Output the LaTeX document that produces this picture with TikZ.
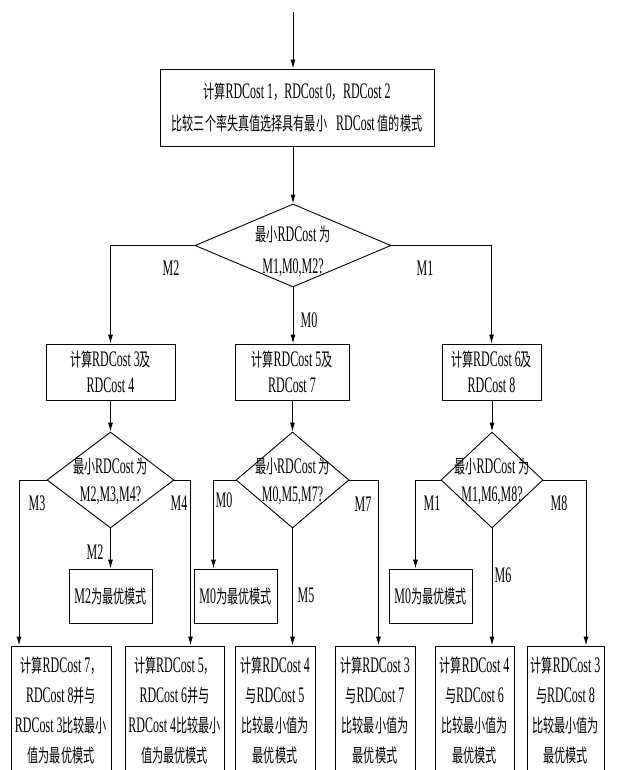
\documentclass[tikz,border=0pt]{standalone}
\usepackage{fontspec}
\setmainfont{Liberation Serif}[Scale=1.2,FakeStretch=0.54]
\newfontfamily\zhfont{Noto Sans CJK SC}[FakeStretch=0.6]
\usetikzlibrary{arrows.meta,shapes.geometric}

% ideographs get the CJK face, everything else stays serif
\XeTeXinterchartokenstate=1
\newXeTeXintercharclass\zhclass
\newcount\zhcode
\zhcode="4E00
\loop
  \XeTeXcharclass\zhcode=\zhclass
  \advance\zhcode by 1
\ifnum\zhcode<"A000 \repeat
\XeTeXcharclass"FF0C=\zhclass
\XeTeXinterchartoks 0 \zhclass = {\zhfont}
\XeTeXinterchartoks 4095 \zhclass = {\zhfont}
\XeTeXinterchartoks \zhclass 0 = {\rmfamily}
\XeTeXinterchartoks \zhclass 4095 = {\rmfamily}

\tikzset{
  box/.style={draw, line width=0.9pt, align=center, inner sep=1pt,
    font=\fontsize{18.5}{30}\selectfont},
  choice/.style={draw, diamond, line width=0.9pt, inner sep=0pt},
  qtext/.style={align=center, inner sep=0pt, font=\fontsize{18.5}{28}\selectfont},
  lab/.style={inner sep=0pt, font=\fontsize{18.5}{20}\selectfont},
  flow/.style={line width=0.9pt, -{Latex[length=9pt,width=5pt]}},
}

\begin{document}
\begin{tikzpicture}[x=1pt,y=-1pt]
  \useasboundingbox (0,0) rectangle (616,770);

  % first decision
  \coordinate (start) at (293,12);
  \node[box, minimum width=274pt, minimum height=77pt, font=\fontsize{18.5}{32}\selectfont]
    (tb) at (297,107.5) {计算RDCost 1，RDCost 0，RDCost 2\\比较三个率失真值选择具有最小\hspace{9pt}RDCost 值的模式};
  \node[choice, minimum width=196pt, minimum height=83pt] (d1) at (293,245.5) {};
  \node[qtext, font=\fontsize{18.5}{32}\selectfont] (q1) at ([yshift=-5.5pt]d1.center) {最小RDCost 为\\M1,M0,M2?};

  % second row
  \node[box, minimum width=129pt, minimum height=56pt, font=\fontsize{18.5}{26}\selectfont]
    (bl) at (110.5,372) {计算RDCost 3及\\RDCost 4};
  \node[box, minimum width=114pt, minimum height=56pt, font=\fontsize{18.5}{26}\selectfont]
    (bm) at (292,372) {计算RDCost 5及\\RDCost 7};
  \node[box, minimum width=99pt, minimum height=56pt, font=\fontsize{18.5}{26}\selectfont]
    (br) at (491.5,372) {计算RDCost 6及\\RDCost 8};

  \node[choice, minimum width=127pt, minimum height=96pt] (dl) at (110.5,480) {};
  \node[choice, minimum width=113pt, minimum height=96pt] (dm) at (292.5,480) {};
  \node[choice, minimum width=102pt, minimum height=96pt] (dr) at (492,480) {};
  \node[qtext] (ql) at ([yshift=-1pt]dl.center) {最小RDCost 为\\M2,M3,M4?};
  \node[qtext] (qm) at ([yshift=-1pt]dm.center) {最小RDCost 为\\M0,M5,M7?};
  \node[qtext] (qr) at ([yshift=-1pt]dr.center) {最小RDCost 为\\M1,M6,M8?};

  % results
  \node[box, minimum width=83pt, minimum height=54pt] (sl) at (110.5,596) {M2为最优模式};
  \node[box, minimum width=83pt, minimum height=54pt] (sm) at (235.5,596) {M0为最优模式};
  \node[box, minimum width=83pt, minimum height=54pt] (sr) at (430.5,596) {M0为最优模式};

  \node[box, minimum width=100pt, minimum height=129pt] (b1) at (61,710.5)
    {计算RDCost 7，\\RDCost 8并与\\RDCost 3比较最小\\值为最优模式};
  \node[box, minimum width=99pt, minimum height=129pt] (b2) at (174.5,710.5)
    {计算RDCost 5，\\RDCost 6并与\\RDCost 4比较最小\\值为最优模式};
  \node[box, minimum width=80pt, minimum height=129pt] (b3) at (275,710.5)
    {计算RDCost 4\\与RDCost 5\\比较最小值为\\最优模式};
  \node[box, minimum width=80pt, minimum height=129pt] (b4) at (375,710.5)
    {计算RDCost 3\\与RDCost 7\\比较最小值为\\最优模式};
  \node[box, minimum width=79pt, minimum height=129pt] (b5) at (474.5,710.5)
    {计算RDCost 4\\与RDCost 6\\比较最小值为\\最优模式};
  \node[box, minimum width=77pt, minimum height=129pt] (b6) at (565.5,710.5)
    {计算RDCost 3\\与RDCost 8\\比较最小值为\\最优模式};

  % connectors
  \draw[flow] (start) -- (start |- tb.north);
  \draw[flow] (d1.north |- tb.south) -- (d1.north);
  \draw[flow] (d1.west) -| (bl.north);
  \draw[flow] (d1.east) -| (br.north);
  \draw[flow] (d1.south) -- (d1.south |- bm.north);
  \draw[flow] (bl.south) -- (dl.north);
  \draw[flow] (dm.north |- bm.south) -- (dm.north);
  \draw[flow] (dr.north |- br.south) -- (dr.north);

  \draw[flow] (dl.south) -- (sl.north);
  \draw[flow] (dl.west) -| ([xshift=-42pt]b1.north);
  \draw[flow] (dl.east) -| ([xshift=16pt]b2.north);
  \draw[flow] (dm.west) -| ([xshift=-22pt]sm.north);
  \draw[flow] (dm.south) -- (dm.south |- b3.north);
  \draw[flow] (dm.east) -| ([xshift=3.5pt]b4.north);
  \draw[flow] (dr.west) -| ([xshift=-15pt]sr.north);
  \draw[flow] (dr.south) -- (dr.south |- b5.north);
  \draw[flow] (dr.east) -| ([xshift=20.5pt]b6.north);

  % branch labels
  \node[lab] (l1) at (171,268) {M2};
  \node[lab] (l2) at (425,268) {M1};
  \node[lab] (l3) at (309,320) {M0};
  \node[lab] (l4) at (37,503) {M3};
  \node[lab] (l5) at (179,503) {M4};
  \node[lab] (l6) at (95,552) {M2};
  \node[lab] (l7) at (224,500) {M0};
  \node[lab] (l8) at (363,504) {M7};
  \node[lab] (l9) at (306,595) {M5};
  \node[lab] (l10) at (432,503) {M1};
  \node[lab] (l11) at (559,503) {M8};
  \node[lab] (l12) at (503,575) {M6};
\end{tikzpicture}
\end{document}
